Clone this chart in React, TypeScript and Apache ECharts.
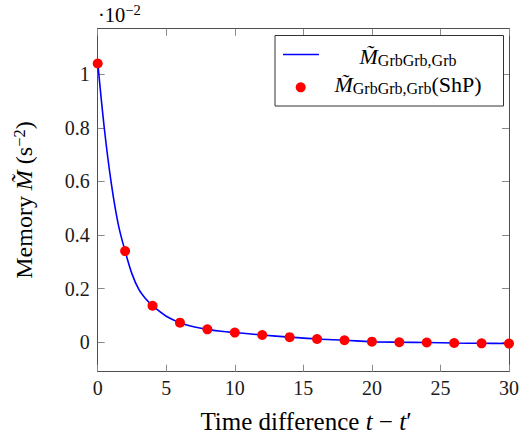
import React, { useEffect, useRef } from "react";
import * as echarts from "echarts";

// ---- data ----
const pointX = [0, 2, 4, 6, 8, 10, 12, 14, 16, 18, 20, 22, 24, 26, 28, 30];
const pointY = [1.04, 0.34, 0.136, 0.073, 0.048, 0.036, 0.027, 0.019, 0.012, 0.0075, 0.002, 0.0, -0.001, -0.003, -0.004, -0.005];

const lineX = [0, 0.5, 1, 1.5, 2, 2.5, 3, 3.5, 4, 5, 6, 7, 8, 9, 10, 12, 14, 16, 18, 20, 22, 24, 26, 28, 30];
const lineY = [1.045, 0.79, 0.59, 0.44, 0.34, 0.255, 0.197, 0.162, 0.136, 0.097, 0.073, 0.058, 0.048, 0.041, 0.036, 0.027, 0.019, 0.012, 0.0075, 0.002, 0.0, -0.001, -0.003, -0.004, -0.005];

const xTicks = [0, 5, 10, 15, 20, 25, 30];
const yTicks = [0, 0.2, 0.4, 0.6, 0.8, 1];

const FONT = "Liberation Serif";
const TXT = "#1a1a1a";
const AXIS = "#4d4d4d";
const TICK = "#8a8a8a";

export default function App() {
  const ref = useRef<HTMLDivElement>(null);

  useEffect(() => {
    if (!ref.current) return;
    const chart = echarts.init(ref.current, undefined, { renderer: "svg" });

    const mk = (sz: number, extra: any = {}) => ({ fontFamily: FONT, fontSize: sz, color: TXT, verticalAlign: "middle", ...extra });

    const xCommon = {
      type: "value" as const,
      min: xTicks[0],
      max: xTicks[xTicks.length - 1],
      interval: 5,
      splitLine: { show: false },
      axisLine: { show: true, onZero: false, lineStyle: { color: AXIS, width: 1 } },
      axisTick: { show: true, inside: true, length: 7, lineStyle: { color: TICK, width: 1 } },
    };
    const yCommon = {
      type: "value" as const,
      min: -0.11,
      max: 1.17,
      splitLine: { show: false },
      axisLine: { show: true, onZero: false, lineStyle: { color: AXIS, width: 1 } },
      axisTick: { show: true, inside: true, length: 7, customValues: yTicks, lineStyle: { color: TICK, width: 1 } },
    };

    chart.setOption({
      animation: false,
      backgroundColor: "#ffffff",
      grid: { left: 97.7, right: 9.7, top: 28.7, bottom: 61.3, containLabel: false },
      xAxis: [
        {
          ...xCommon,
          position: "bottom",
          axisLabel: { show: true, margin: 6, fontFamily: FONT, fontSize: 20, color: TXT, formatter: (v: number) => String(v) },
        },
        { ...xCommon, position: "top", axisLabel: { show: false } },
      ],
      yAxis: [
        {
          ...yCommon,
          position: "left",
          axisLabel: {
            show: true,
            margin: 8,
            customValues: yTicks,
            fontFamily: FONT,
            fontSize: 20,
            color: TXT,
            formatter: (v: number) => String(Math.round(v * 10) / 10),
          },
        },
        { ...yCommon, position: "right", axisLabel: { show: false } },
      ],
      series: [
        {
          type: "line",
          name: "line",
          data: lineX.map((x, i) => [x, lineY[i]]),
          smooth: 0.35,
          showSymbol: false,
          symbol: "none",
          lineStyle: { color: "#0000ff", width: 1.6 },
          z: 2,
        },
        {
          type: "scatter",
          name: "points",
          data: pointX.map((x, i) => [x, pointY[i]]),
          symbol: "circle",
          symbolSize: 10,
          itemStyle: { color: "#ff0000", opacity: 1 },
          z: 3,
        },
      ],
      graphic: [
        {
          type: "text",
          x: 98,
          y: 14.7,
          style: {
            text: "{a|·10}{b|−2}",
            align: "left",
            verticalAlign: "middle",
            rich: { a: mk(20.5), b: mk(14.5, { padding: [0, 0, 9, 0] }) },
          },
        },
        {
          type: "text",
          x: 306,
          y: 421,
          style: {
            text: "{r|Time difference }{m|t}{r| − }{m|t}{r|′}",
            align: "center",
            verticalAlign: "middle",
            rich: { r: mk(25), m: mk(25, { fontStyle: "italic" }) },
          },
        },
        {
          type: "text",
          x: 24,
          y: 200,
          rotation: Math.PI / 2,
          style: {
            text: "{r|Memory }{m|M̃}{r| (s}{b|−2}{r|)}",
            align: "center",
            verticalAlign: "middle",
            rich: {
              r: mk(24),
              m: mk(24, { fontStyle: "italic" }),
              b: mk(16.5, { padding: [0, 0, 10, 0] }),
            },
          },
        },
        {
          type: "rect",
          shape: { x: 275, y: 35.5, width: 228.5, height: 70.5 },
          style: { fill: "#ffffff", stroke: "#333333", lineWidth: 1 },
          z: 10,
        },
        {
          type: "line",
          shape: { x1: 283, y1: 54.5, x2: 319, y2: 54.5 },
          style: { stroke: "#0000ff", lineWidth: 1.6 },
          z: 11,
        },
        {
          type: "circle",
          shape: { cx: 300.7, cy: 87.3, r: 5 },
          style: { fill: "#ff0000" },
          z: 11,
        },
        {
          type: "text",
          x: 408,
          y: 56.3,
          z: 11,
          style: {
            text: "{m|M̃}{s|GrbGrb,Grb}",
            align: "center",
            verticalAlign: "middle",
            rich: { m: mk(22, { fontStyle: "italic" }), s: mk(16, { padding: [8, 0, 0, 0] }) },
          },
        },
        {
          type: "text",
          x: 408,
          y: 84.7,
          z: 11,
          style: {
            text: "{m|M̃}{s|GrbGrb,Grb}{n|(ShP)}",
            align: "center",
            verticalAlign: "middle",
            rich: {
              m: mk(22, { fontStyle: "italic" }),
              s: mk(16, { padding: [8, 0, 0, 0] }),
              n: mk(22),
            },
          },
        },
      ],
    });

    return () => chart.dispose();
  }, []);

  return (
    <div
      ref={ref}
      style={{ position: "fixed", left: 0, top: 0, width: 522, height: 433, background: "#fff" }}
    />
  );
}
